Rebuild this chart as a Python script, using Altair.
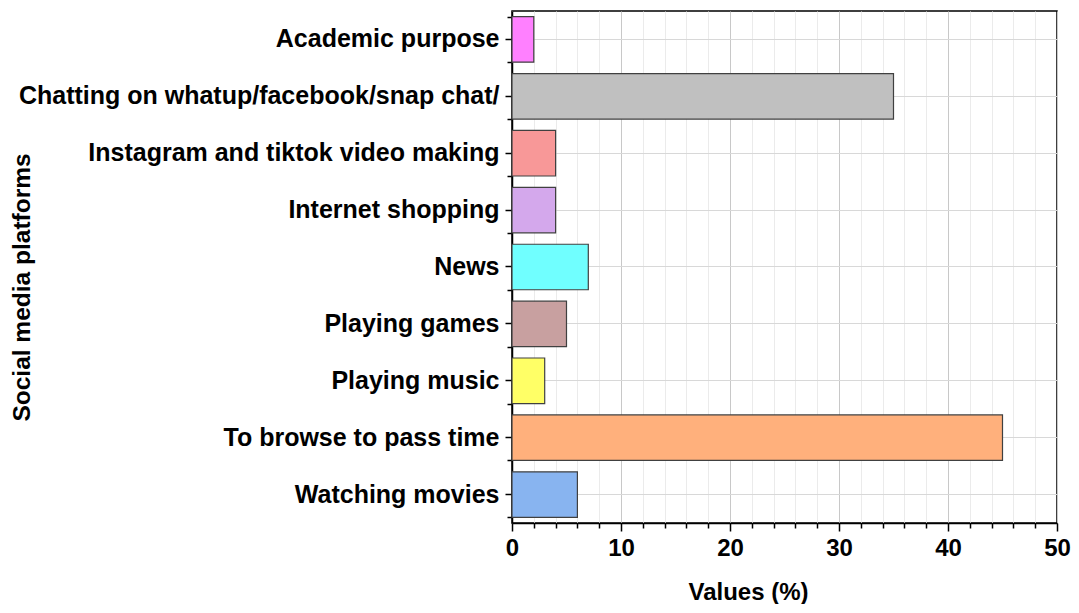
import altair as alt
import pandas as pd

categories = [
    "Academic purpose",
    "Chatting on whatup/facebook/snap chat/",
    "Instagram and tiktok video making",
    "Internet shopping",
    "News",
    "Playing games",
    "Playing music",
    "To browse to pass time",
    "Watching movies",
]
values = [2, 35, 4, 4, 7, 5, 3, 45, 6]
colors = ["#FF80FF", "#C0C0C0", "#F89898", "#D4A8EC", "#70FFFF",
          "#C8A0A0", "#FFFF66", "#FFB07C", "#88B4F0"]

df = pd.DataFrame({"cat": categories, "val": values, "color": colors})
ticks = list(range(0, 51, 2))

FONT = "Liberation Sans"

x_axis = alt.Axis(
    values=ticks,
    labelExpr="datum.value % 10 === 0 ? datum.label : ''",
    tickSize={"condition": {"test": "datum.value % 10 === 0", "value": 8}, "value": 5},
    gridColor={"condition": {"test": "datum.value % 10 === 0", "value": "#C8C8C8"}, "value": "#EBEBEB"},
    gridWidth=1,
    grid=True,
    domainColor="#000000",
    domainWidth=1.5,
    tickColor="#000000",
    tickWidth=1.5,
    labelFont=FONT,
    labelFontSize=24,
    labelFontWeight="bold",
    labelColor="#000000",
    labelPadding=5,
    title="Values (%)",
    titleFont=FONT,
    titleFontSize=24,
    titleFontWeight="bold",
    titleColor="#000000",
    titleX=236,
    titleY=57,
    labelFlush=False,
)

y_axis = alt.Axis(
    orient="left",
    grid=True,
    gridColor="#D8D8D8",
    domainColor="#000000",
    domainWidth=1.5,
    tickColor="#000000",
    tickWidth=1.5,
    tickSize=7,
    labelFont=FONT,
    labelFontSize=25,
    labelFontWeight="bold",
    labelColor="#000000",
    labelPadding=6,
    labelLimit=700,
    title="Social media platforms",
    titleFont=FONT,
    titleFontSize=24.5,
    titleFontWeight="bold",
    titleColor="#000000",
    titleX=-478,
    titleY=276,
)

y_minor = alt.Axis(
    orient="left",
    labels=False,
    title=None,
    grid=False,
    domain=False,
    tickBand="extent",
    tickColor="#000000",
    tickWidth=1.5,
    tickSize=5,
)

y_scale = alt.Scale(paddingInner=0.2, paddingOuter=0.1)
x_scale = alt.Scale(domain=[0, 50], nice=False)

bars = alt.Chart(df).mark_bar(
    stroke="#404040", strokeWidth=1.2
).encode(
    x=alt.X("val:Q", scale=x_scale, axis=x_axis),
    y=alt.Y("cat:N", sort=categories, scale=y_scale, axis=y_axis),
    color=alt.Color("color:N", scale=None),
)

minor = alt.Chart(df).mark_bar(opacity=0).encode(
    x=alt.X("val:Q", scale=x_scale, axis=x_axis),
    y=alt.Y("cat:N", sort=categories, scale=y_scale, axis=y_minor),
)

chart = alt.layer(bars, minor).resolve_axis(y="independent").properties(
    width=545,
    height=512,
    autosize=alt.AutoSizeParams(type="none"),
    padding={"left": 504, "top": 3, "right": 14, "bottom": 81},
).configure_view(
    stroke="#000000", strokeWidth=1.5
)

chart.save("out.html", embed_options={"renderer": "svg", "actions": False})
